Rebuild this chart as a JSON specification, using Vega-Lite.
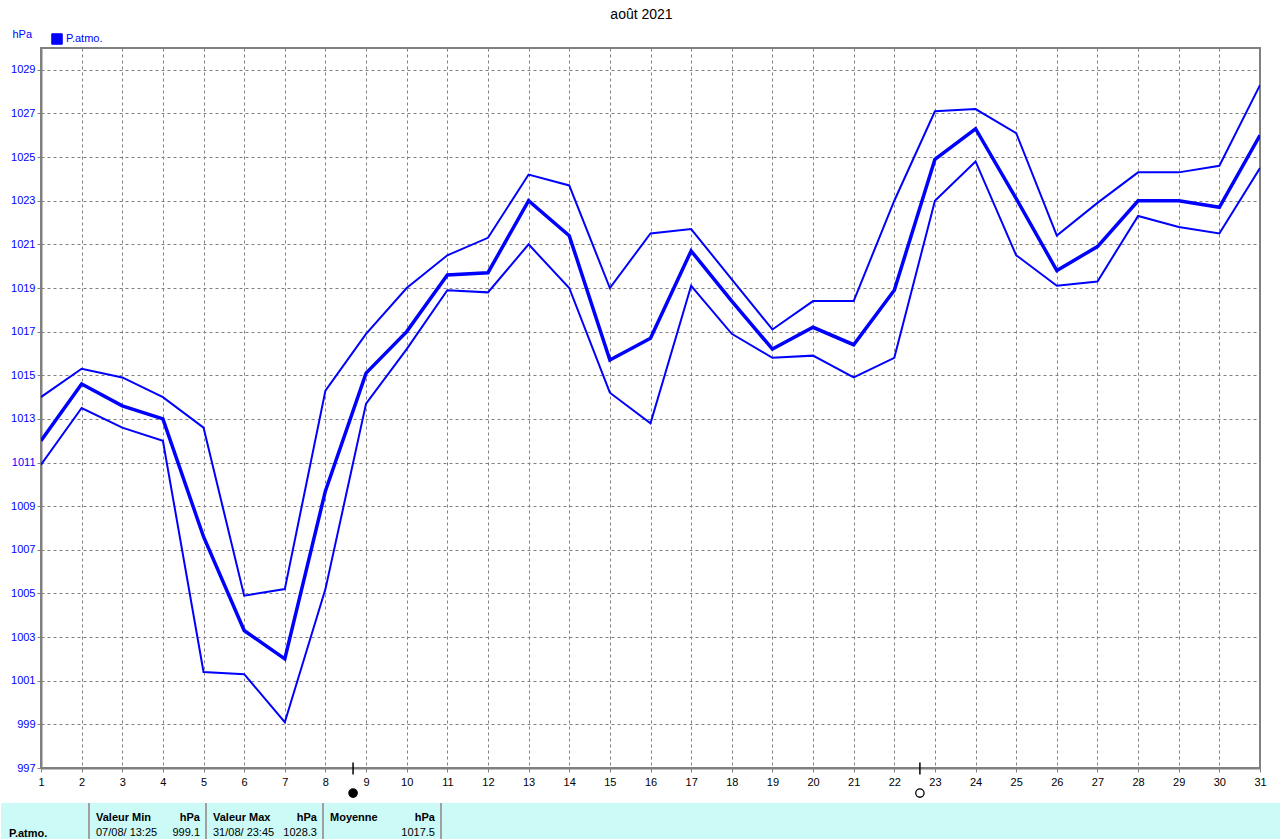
{
  "$schema": "https://vega.github.io/schema/vega-lite/v6.json",
  "background": "white",
  "padding": {"left": 0, "top": 6, "right": 0, "bottom": 0},
  "spacing": 1,
  "config": {
    "font": "Liberation Sans",
    "view": {"stroke": "#808080", "strokeWidth": 2},
    "axis": {"labelFont": "Liberation Sans", "labelFontSize": 11, "titleFont": "Liberation Sans"}
  },
  "vconcat": [
    {
      "width": 1219,
      "height": 720,
      "title": {"text": "août 2021", "font": "Liberation Sans", "fontSize": 14, "fontWeight": "normal", "color": "#000000", "anchor": "middle", "dx": -9, "baseline": "alphabetic", "offset": -4.5},
      "layer": [
        {
          "data": {"values": [
            {"d":1,"s":"max","v":1014.0},{"d":1,"s":"mean","v":1012.0},{"d":1,"s":"min","v":1010.9},
            {"d":2,"s":"max","v":1015.3},{"d":2,"s":"mean","v":1014.6},{"d":2,"s":"min","v":1013.5},
            {"d":3,"s":"max","v":1014.9},{"d":3,"s":"mean","v":1013.6},{"d":3,"s":"min","v":1012.6},
            {"d":4,"s":"max","v":1014.0},{"d":4,"s":"mean","v":1013.0},{"d":4,"s":"min","v":1012.0},
            {"d":5,"s":"max","v":1012.6},{"d":5,"s":"mean","v":1007.6},{"d":5,"s":"min","v":1001.4},
            {"d":6,"s":"max","v":1004.9},{"d":6,"s":"mean","v":1003.3},{"d":6,"s":"min","v":1001.3},
            {"d":7,"s":"max","v":1005.2},{"d":7,"s":"mean","v":1002.0},{"d":7,"s":"min","v":999.1},
            {"d":8,"s":"max","v":1014.3},{"d":8,"s":"mean","v":1009.7},{"d":8,"s":"min","v":1005.2},
            {"d":9,"s":"max","v":1016.9},{"d":9,"s":"mean","v":1015.1},{"d":9,"s":"min","v":1013.7},
            {"d":10,"s":"max","v":1019.0},{"d":10,"s":"mean","v":1017.0},{"d":10,"s":"min","v":1016.2},
            {"d":11,"s":"max","v":1020.5},{"d":11,"s":"mean","v":1019.6},{"d":11,"s":"min","v":1018.9},
            {"d":12,"s":"max","v":1021.3},{"d":12,"s":"mean","v":1019.7},{"d":12,"s":"min","v":1018.8},
            {"d":13,"s":"max","v":1024.2},{"d":13,"s":"mean","v":1023.0},{"d":13,"s":"min","v":1021.0},
            {"d":14,"s":"max","v":1023.7},{"d":14,"s":"mean","v":1021.4},{"d":14,"s":"min","v":1019.0},
            {"d":15,"s":"max","v":1019.0},{"d":15,"s":"mean","v":1015.7},{"d":15,"s":"min","v":1014.2},
            {"d":16,"s":"max","v":1021.5},{"d":16,"s":"mean","v":1016.7},{"d":16,"s":"min","v":1012.8},
            {"d":17,"s":"max","v":1021.7},{"d":17,"s":"mean","v":1020.7},{"d":17,"s":"min","v":1019.1},
            {"d":18,"s":"max","v":1019.4},{"d":18,"s":"mean","v":1018.4},{"d":18,"s":"min","v":1016.9},
            {"d":19,"s":"max","v":1017.1},{"d":19,"s":"mean","v":1016.2},{"d":19,"s":"min","v":1015.8},
            {"d":20,"s":"max","v":1018.4},{"d":20,"s":"mean","v":1017.2},{"d":20,"s":"min","v":1015.9},
            {"d":21,"s":"max","v":1018.4},{"d":21,"s":"mean","v":1016.4},{"d":21,"s":"min","v":1014.9},
            {"d":22,"s":"max","v":1023.0},{"d":22,"s":"mean","v":1018.9},{"d":22,"s":"min","v":1015.8},
            {"d":23,"s":"max","v":1027.1},{"d":23,"s":"mean","v":1024.9},{"d":23,"s":"min","v":1023.0},
            {"d":24,"s":"max","v":1027.2},{"d":24,"s":"mean","v":1026.3},{"d":24,"s":"min","v":1024.8},
            {"d":25,"s":"max","v":1026.1},{"d":25,"s":"mean","v":1023.1},{"d":25,"s":"min","v":1020.5},
            {"d":26,"s":"max","v":1021.4},{"d":26,"s":"mean","v":1019.8},{"d":26,"s":"min","v":1019.1},
            {"d":27,"s":"max","v":1022.9},{"d":27,"s":"mean","v":1020.9},{"d":27,"s":"min","v":1019.3},
            {"d":28,"s":"max","v":1024.3},{"d":28,"s":"mean","v":1023.0},{"d":28,"s":"min","v":1022.3},
            {"d":29,"s":"max","v":1024.3},{"d":29,"s":"mean","v":1023.0},{"d":29,"s":"min","v":1021.8},
            {"d":30,"s":"max","v":1024.6},{"d":30,"s":"mean","v":1022.7},{"d":30,"s":"min","v":1021.5},
            {"d":31,"s":"max","v":1028.3},{"d":31,"s":"mean","v":1026.0},{"d":31,"s":"min","v":1024.5}
          ]},
          "mark": {"type": "line", "clip": true},
          "encoding": {
            "x": {"field": "d", "type": "quantitative",
              "scale": {"domain": [1, 31], "nice": false, "zero": false},
              "axis": {"title": null, "values": [1,2,3,4,5,6,7,8,9,10,11,12,13,14,15,16,17,18,19,20,21,22,23,24,25,26,27,28,29,30,31],
                "format": "d", "labelColor": "#000000", "labelFontSize": 11, "labelPadding": 4,
                "tickSize": 4, "tickColor": "#808080", "domainColor": "#808080", "domainWidth": 2,
                "grid": true, "gridColor": "#808080", "gridDash": [3, 3], "gridWidth": 1, "labelFlush": false, "labelOverlap": false}},
            "y": {"field": "v", "type": "quantitative",
              "scale": {"domain": [997, 1030], "nice": false, "zero": false},
              "axis": {"title": "hPa", "titleAngle": 0, "titleAlign": "left", "titleBaseline": "alphabetic", "titleX": -29, "titleY": -11,
                "titleColor": "#0000ff", "titleFontSize": 11, "titleFontWeight": "normal",
                "values": [997,999,1001,1003,1005,1007,1009,1011,1013,1015,1017,1019,1021,1023,1025,1027,1029],
                "format": "d",
                "labelColor": "#0000ff", "labelFontSize": 11, "labelPadding": 2, "tickSize": 4, "tickColor": "#808080",
                "domainColor": "#808080", "domainWidth": 2, "minExtent": 40,
                "grid": true, "gridColor": "#808080", "gridDash": [3, 3], "gridWidth": 1}},
            "color": {"datum": "P.atmo.", "type": "nominal",
              "scale": {"range": ["#0000ff"]},
              "legend": {"title": null, "orient": "none", "legendX": 10, "legendY": -15, "padding": 0,
                "symbolType": "square", "symbolSize": 110, "symbolStrokeWidth": 1,
                "labelColor": "#0000ff", "labelFont": "Liberation Sans", "labelFontSize": 11, "labelOffset": 3,
                "encode": {"symbols": {"update": {"fill": {"value": "#0000ff"}, "stroke": {"value": "#000000"}, "strokeWidth": {"value": 1}}}}}},
            "detail": {"field": "s", "type": "nominal"},
            "strokeWidth": {"condition": {"test": "datum.s === 'mean'", "value": 3.5}, "value": 2}
          }
        },
        {
          "data": {"values": [{"day": 8.68, "phase": "nouvelle lune"}, {"day": 22.63, "phase": "pleine lune"}]},
          "mark": {"type": "rule", "color": "#000000", "strokeWidth": 1.5, "clip": false},
          "encoding": {
            "x": {"field": "day", "type": "quantitative"},
            "y": {"datum": 997.25},
            "y2": {"datum": 996.7}
          }
        },
        {
          "data": {"values": [{"day": 8.68, "phase": "nouvelle lune"}, {"day": 22.63, "phase": "pleine lune"}]},
          "mark": {"type": "point", "shape": "circle", "size": 70, "strokeWidth": 1.3, "stroke": "#000000", "filled": false, "clip": false, "opacity": 1},
          "encoding": {
            "x": {"field": "day", "type": "quantitative"},
            "y": {"datum": 995.85},
            "fill": {"field": "phase", "type": "nominal", "scale": {"domain": ["nouvelle lune", "pleine lune"], "range": ["#000000", "#ffffff"]}, "legend": null}
          }
        }
      ]
    },
    {
      "width": 1240,
      "height": 38,
      "view": {"fill": "#ccfaf6", "stroke": null},
      "data": {"values": [
        {"col": 0, "row": "v", "left": "P.atmo.", "right": ""},
        {"col": 1, "row": "h", "left": "Valeur Min", "right": "hPa"},
        {"col": 1, "row": "v", "left": "07/08/  13:25", "right": "999.1"},
        {"col": 2, "row": "h", "left": "Valeur Max", "right": "hPa"},
        {"col": 2, "row": "v", "left": "31/08/  23:45", "right": "1028.3"},
        {"col": 3, "row": "h", "left": "Moyenne", "right": "hPa"},
        {"col": 3, "row": "v", "left": "", "right": "1017.5"}
      ]},
      "layer": [
        {
          "transform": [{"filter": "datum.col === 0"}],
          "mark": {"type": "rect", "color": "#ccfaf6", "clip": false},
          "encoding": {
            "x": {"datum": 0, "type": "quantitative", "scale": {"domain": [0, 1, 2, 3, 4, 5], "range": [-40, 48, 165, 282, 400, 1240], "zero": false, "nice": false}, "axis": null},
            "x2": {"datum": 5}
          }
        },
        {
          "transform": [{"filter": "datum.row === 'v'"}],
          "mark": {"type": "rule", "color": "#a0a0a0", "strokeWidth": 2},
          "encoding": {
            "x": {"field": "col", "type": "quantitative", "scale": {"domain": [0, 1, 2, 3], "range": [48, 165, 282, 400], "zero": false, "nice": false}, "axis": null}
          }
        },
        {
          "transform": [{"filter": "datum.row === 'h'"}],
          "mark": {"type": "text", "align": "left", "baseline": "alphabetic", "dx": 7, "dy": 8.5, "font": "Liberation Sans", "fontSize": 11, "fontWeight": "bold", "color": "#000000"},
          "encoding": {
            "x": {"field": "col", "type": "quantitative", "scale": {"domain": [0, 1, 2, 3], "range": [-40, 48, 165, 282], "zero": false, "nice": false}, "axis": null},
            "y": {"field": "row", "type": "nominal", "scale": {"domain": ["h", "v"], "paddingInner": 0, "paddingOuter": 0}, "axis": null},
            "text": {"field": "left"}
          }
        },
        {
          "transform": [{"filter": "datum.row === 'h'"}],
          "mark": {"type": "text", "align": "right", "baseline": "alphabetic", "dx": -6, "dy": 8.5, "font": "Liberation Sans", "fontSize": 11, "fontWeight": "bold", "color": "#000000"},
          "encoding": {
            "x": {"field": "col", "type": "quantitative", "scale": {"domain": [0, 1, 2, 3], "range": [48, 165, 282, 400], "zero": false, "nice": false}, "axis": null},
            "y": {"field": "row", "type": "nominal", "scale": {"domain": ["h", "v"], "paddingInner": 0, "paddingOuter": 0}, "axis": null},
            "text": {"field": "right"}
          }
        },
        {
          "transform": [{"filter": "datum.row === 'v' && datum.col > 0"}],
          "mark": {"type": "text", "align": "left", "baseline": "alphabetic", "dx": 7, "dy": 4, "font": "Liberation Sans", "fontSize": 11, "fontWeight": "normal", "color": "#000000"},
          "encoding": {
            "x": {"field": "col", "type": "quantitative", "scale": {"domain": [0, 1, 2, 3], "range": [-40, 48, 165, 282], "zero": false, "nice": false}, "axis": null},
            "y": {"field": "row", "type": "nominal", "scale": {"domain": ["h", "v"], "paddingInner": 0, "paddingOuter": 0}, "axis": null},
            "text": {"field": "left"}
          }
        },
        {
          "transform": [{"filter": "datum.row === 'v' && datum.col === 0"}],
          "mark": {"type": "text", "align": "left", "baseline": "alphabetic", "dx": 8, "dy": 5, "font": "Liberation Sans", "fontSize": 11, "fontWeight": "bold", "color": "#000000"},
          "encoding": {
            "x": {"field": "col", "type": "quantitative", "scale": {"domain": [0, 1, 2, 3], "range": [-40, 48, 165, 282], "zero": false, "nice": false}, "axis": null},
            "y": {"field": "row", "type": "nominal", "scale": {"domain": ["h", "v"], "paddingInner": 0, "paddingOuter": 0}, "axis": null},
            "text": {"field": "left"}
          }
        },
        {
          "transform": [{"filter": "datum.row === 'v'"}],
          "mark": {"type": "text", "align": "right", "baseline": "alphabetic", "dx": -6, "dy": 4, "font": "Liberation Sans", "fontSize": 11, "fontWeight": "normal", "color": "#000000"},
          "encoding": {
            "x": {"field": "col", "type": "quantitative", "scale": {"domain": [0, 1, 2, 3], "range": [48, 165, 282, 400], "zero": false, "nice": false}, "axis": null},
            "y": {"field": "row", "type": "nominal", "scale": {"domain": ["h", "v"], "paddingInner": 0, "paddingOuter": 0}, "axis": null},
            "text": {"field": "right"}
          }
        }
      ],
      "resolve": {"scale": {"x": "independent", "y": "independent"}}
    }
  ]
}
